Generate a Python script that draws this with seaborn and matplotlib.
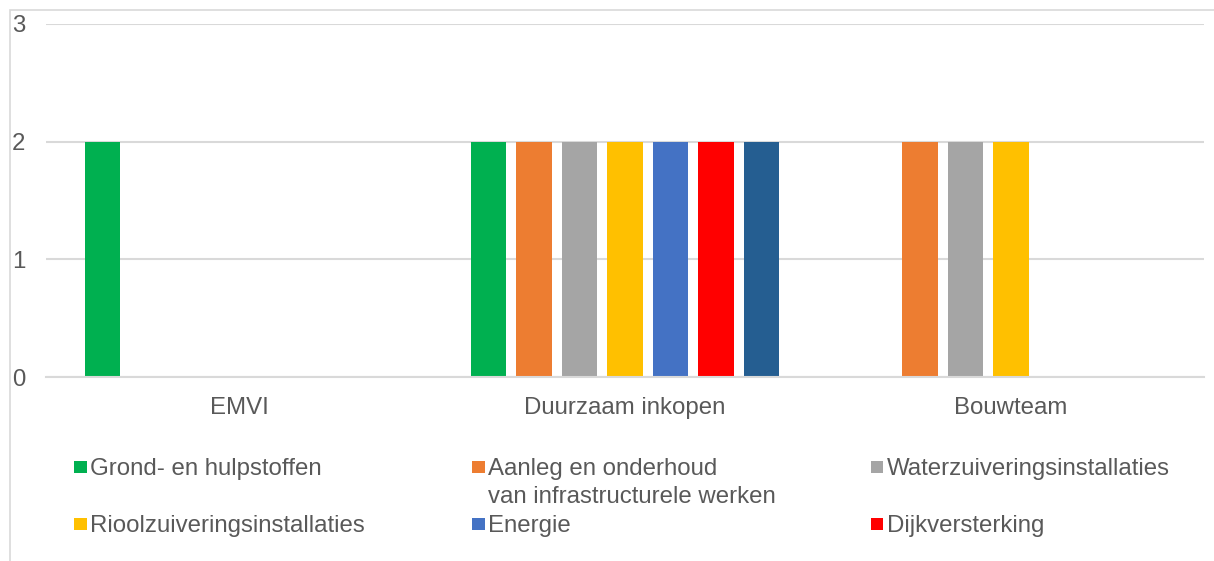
import matplotlib
matplotlib.use("Agg")
import matplotlib.pyplot as plt
from matplotlib.patches import Rectangle
import pandas as pd
import seaborn as sns

# Procurement methods and the product groups they were applied to
categories = ["EMVI", "Duurzaam inkopen", "Bouwteam"]
series_names = [
    "Grond- en hulpstoffen",
    "Aanleg en onderhoud van infrastructurele werken",
    "Waterzuiveringsinstallaties",
    "Rioolzuiveringsinstallaties",
    "Energie",
    "Dijkversterking",
    "Overig",
]
values = {
    "Grond- en hulpstoffen": [2, 2, 0],
    "Aanleg en onderhoud van infrastructurele werken": [0, 2, 2],
    "Waterzuiveringsinstallaties": [0, 2, 2],
    "Rioolzuiveringsinstallaties": [0, 2, 2],
    "Energie": [0, 2, 0],
    "Dijkversterking": [0, 2, 0],
    "Overig": [0, 2, 0],
}
colors = ["#00B050", "#ED7D31", "#A5A5A5", "#FFC000", "#4472C4", "#FF0000", "#255E91"]
y_ticks = [0, 1, 2, 3]

rows = []
for s in series_names:
    for c, v in zip(categories, values[s]):
        rows.append({"categorie": c, "aantal": v, "reeks": s})
df = pd.DataFrame(rows)

W, H = 1214, 561
TEXT = "#595959"
GRID = "#D9D9D9"
FS = 17.3

sns.set_theme(style="white")
plt.rcParams["font.family"] = ["Liberation Sans", "DejaVu Sans"]

fig = plt.figure(figsize=(W / 100, H / 100), dpi=100)
ax = fig.add_axes([46 / W, 1 - 377 / H, 1158 / W, 353 / H])

sns.barplot(
    data=df, x="categorie", y="aantal", hue="reeks",
    order=categories, hue_order=series_names, palette=colors, saturation=1,
    width=0.825, gap=0.22, linewidth=0, errorbar=None, legend=False, ax=ax,
)

ax.set_xlim(-0.5, 2.5)
ax.set_ylim(0, 3)
ax.set_yticks(y_ticks)
ax.set_yticklabels([str(t) for t in y_ticks])
ax.yaxis.grid(True, color=GRID, linewidth=1.5)
ax.set_axisbelow(True)
for side in ["top", "right", "left"]:
    ax.spines[side].set_visible(False)
ax.spines["bottom"].set_color(GRID)
ax.spines["bottom"].set_linewidth(1.5)
ax.set_xlabel("")
ax.set_ylabel("")
ax.tick_params(axis="y", length=0, pad=24.5, labelsize=FS, labelcolor=TEXT)
ax.tick_params(axis="x", length=0, pad=14.5, labelsize=FS, labelcolor=TEXT)
for lbl in ax.get_yticklabels():
    lbl.set_horizontalalignment("left")

# Chart frame
fig.patches.append(Rectangle((9.5 / W, -0.2), 2.0, 1.2 - 10 / H,
                             transform=fig.transFigure, fill=False,
                             edgecolor=GRID, linewidth=1.2))

# Legend laid out in rows of three
def px(x, y):
    return x / W, 1 - y / H

legend_items = [
    (0, ["Grond- en hulpstoffen"], 74, 475),
    (1, ["Aanleg en onderhoud", "van infrastructurele werken"], 472, 475),
    (2, ["Waterzuiveringsinstallaties"], 871, 475),
    (3, ["Rioolzuiveringsinstallaties"], 74, 532),
    (4, ["Energie"], 472, 532),
    (5, ["Dijkversterking"], 871, 532),
]
for idx, lines, x0, base in legend_items:
    mx, my = px(x0, base - 2)
    fig.patches.append(Rectangle((mx, my), 12.5 / W, 12.5 / H,
                                 transform=fig.transFigure,
                                 facecolor=colors[idx], edgecolor="none"))
    for k, line in enumerate(lines):
        tx, ty = px(x0 + 16, base + 28 * k)
        fig.text(tx, ty, line, fontsize=FS, color=TEXT, va="baseline", ha="left")

fig.savefig("out.png", dpi=100)
